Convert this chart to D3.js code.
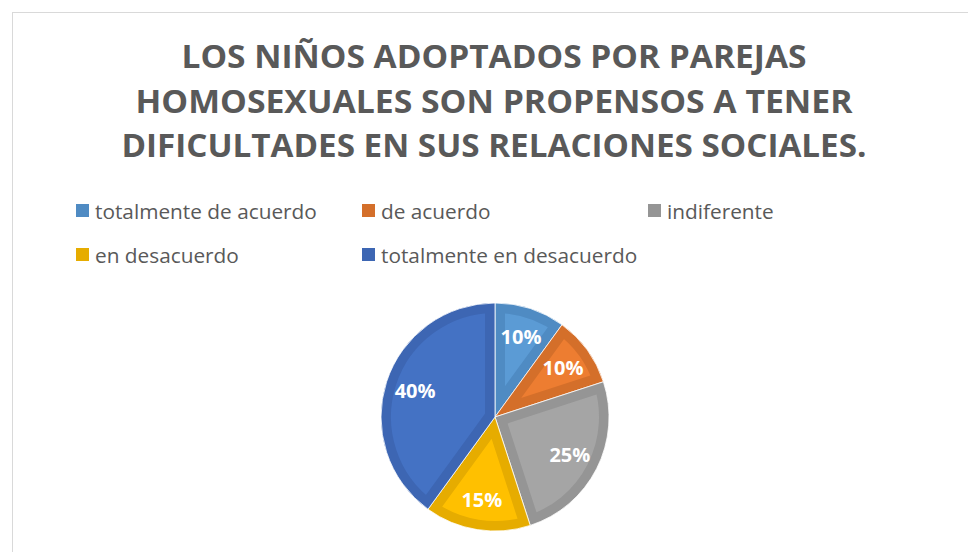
<!DOCTYPE html>
<html>
<head>
<meta charset="utf-8">
<script src="https://cdn.jsdelivr.net/npm/d3@7"></script>
<style>
  html, body { margin: 0; padding: 0; background: #fff; }
  svg { display: block; }
  .title { font-family: "Open Sans", sans-serif; font-weight: 700; fill: #595959; }
  .key { font-family: "Open Sans", sans-serif; fill: #595959; }
  .value { font-family: "Open Sans", sans-serif; font-weight: 700; fill: #fff; }
</style>
</head>
<body>
<div id="chart"></div>
<script>
// Data
var categories = [
  "totalmente de acuerdo",
  "de acuerdo",
  "indiferente",
  "en desacuerdo",
  "totalmente en desacuerdo",
];
var shares = [10, 10, 25, 15, 40];
var titleLines = [
  "LOS NIÑOS ADOPTADOS POR PAREJAS",
  "HOMOSEXUALES SON PROPENSOS A TENER",
  "DIFICULTADES EN SUS RELACIONES SOCIALES.",
];

var fills = ["#5b9bd5", "#ed7d31", "#a5a5a5", "#ffc000", "#4472c4"];
var edges = ["#4f8bc3", "#d46f2a", "#959595", "#e6ac00", "#3d66b3"];

var width = 968;
var height = 552;

var svg = d3
  .select("#chart")
  .append("svg")
  .attr("width", width)
  .attr("height", height);

// chart area border
svg
  .append("rect")
  .attr("x", 12.5)
  .attr("y", 12.5)
  .attr("width", 970)
  .attr("height", 560)
  .attr("fill", "#fff")
  .attr("stroke", "#d9d9d9")
  .attr("stroke-width", 1);

// Title
var titleWidths = [625, 717, 745];
svg
  .append("g")
  .selectAll("text")
  .data(titleLines)
  .enter()
  .append("text")
  .attr("class", "title")
  .attr("x", 494)
  .attr("y", (d, i) => 68 + i * 44.5)
  .attr("text-anchor", "middle")
  .style("font-size", "31.5px")
  .attr("textLength", (d, i) => titleWidths[i])
  .attr("lengthAdjust", "spacingAndGlyphs")
  .text((d) => d);

// Legend
var legend = svg
  .append("g")
  .selectAll("g")
  .data(categories)
  .enter()
  .append("g")
  .attr("transform", (d, i) => `translate(${76 + (i % 3) * 286},${204 + Math.floor(i / 3) * 44})`);

legend
  .append("rect")
  .attr("width", 13)
  .attr("height", 13)
  .attr("fill", (d, i) => edges[i]);

legend
  .append("text")
  .attr("class", "key")
  .attr("x", 19)
  .attr("y", 15)
  .style("font-size", "20.8px")
  .text((d) => d);

// Pie
var cx = 495;
var cy = 417;
var radius = 114;
var border = 10;

var pie = d3
  .pie()
  .sort(null)
  .value((d) => d);

var arcs = pie(shares);
var arc = d3.arc().innerRadius(0).outerRadius(radius);
var labelArc = d3.arc().innerRadius(84).outerRadius(84);

var pieGroup = svg.append("g").attr("transform", `translate(${cx},${cy})`);
var defs = svg.append("defs");

defs
  .selectAll("clipPath")
  .data(arcs)
  .enter()
  .append("clipPath")
  .attr("id", (d, i) => "slice-" + i)
  .append("path")
  .attr("d", arc);

var slices = pieGroup
  .selectAll("g.slice")
  .data(arcs)
  .enter()
  .append("g")
  .attr("class", "slice");

// slice with darker inner border
slices
  .append("path")
  .attr("d", arc)
  .attr("fill", (d, i) => fills[i])
  .attr("stroke", (d, i) => edges[i])
  .attr("stroke-width", border * 2)
  .attr("stroke-linejoin", "miter")
  .attr("clip-path", (d, i) => `url(#slice-${i})`);

slices
  .append("path")
  .attr("d", arc)
  .attr("fill", "none")
  .attr("stroke", "#fff")
  .attr("stroke-width", 0.8);

// Values
pieGroup
  .selectAll("text")
  .data(arcs)
  .enter()
  .append("text")
  .attr("class", "value")
  .attr("transform", (d) => `translate(${labelArc.centroid(d)})`)
  .attr("text-anchor", "middle")
  .attr("dy", "0.36em")
  .style("font-size", "20px")
  .text((d) => d.data + "%");
</script>
</body>
</html>
